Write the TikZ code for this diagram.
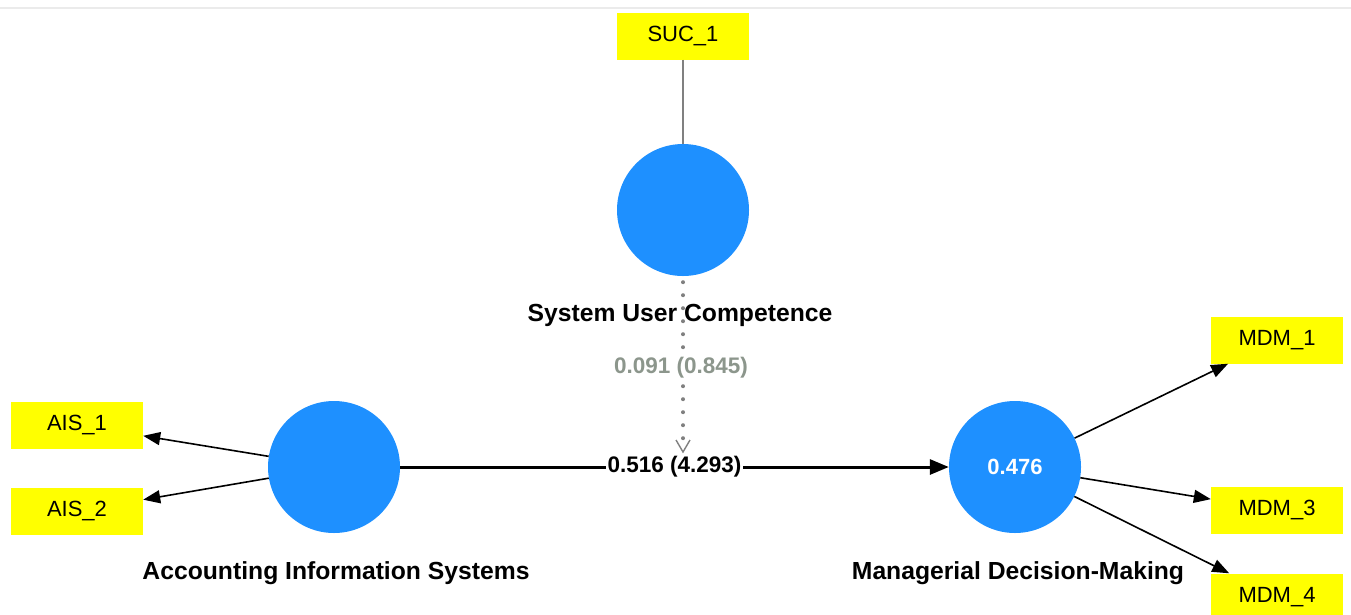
\documentclass[tikz,border=0pt]{standalone}
\usepackage{fontspec}
\setmainfont{Liberation Sans}
\usetikzlibrary{arrows.meta,calc}
\definecolor{lvblue}{RGB}{30,144,255}
\definecolor{indyellow}{RGB}{255,255,0}
\definecolor{pathgrey}{RGB}{128,128,128}
\definecolor{modgrey}{RGB}{140,150,140}
\tikzset{
  latent/.style={circle, fill=lvblue, minimum size=132pt, inner sep=0pt,
    text=white, font=\fontsize{22}{24}\selectfont\bfseries},
  indicator/.style={rectangle, fill=indyellow, minimum width=132pt,
    minimum height=47pt, inner sep=0pt, font=\fontsize{22}{24}\selectfont},
  lvlabel/.style={font=\fontsize{24.7}{28}\selectfont\bfseries, text=black},
  coef/.style={font=\fontsize{22.5}{26}\selectfont\bfseries, fill=white,
    inner sep=2pt},
  loading/.style={line width=1.6pt, -{Triangle[length=17pt,width=13pt]}},
  mainpath/.style={line width=3pt, -{Triangle[length=19pt,width=15pt]}},
}
\begin{document}
\begin{tikzpicture}[x=1pt,y=-1pt]
\useasboundingbox (0,0) rectangle (1351,614);
\clip (0,0) rectangle (1351,614);
\fill[white] (0,0) rectangle (1351,614);
% header rule
\draw[black!8, line width=1.2pt] (0,8) -- (1351,8);

% latent variables
\node[latent] (suc) at (683,210) {};
\node[latent] (ais) at (334,467) {};
\node[latent] (mdm) at (1015,467) {0.476};

% indicators
\node[indicator] (suc1) at (683,36) {SUC\_1};
\node[indicator] (ais1) at (77,425) {AIS\_1};
\node[indicator] (ais2) at (77,511) {AIS\_2};
\node[indicator] (mdm1) at (1277,340) {MDM\_1};
\node[indicator] (mdm3) at (1277,510) {MDM\_3};
\node[indicator] (mdm4) at (1277,597) {MDM\_4};

% construct names
\node[lvlabel] (suclbl) at (680,315) {System User Competence};
\node[lvlabel] (aislbl) at (336,573) {Accounting Information Systems};
\node[lvlabel] (mdmlbl) at (1018,573) {Managerial Decision-Making};

% single-item construct link
\draw[pathgrey, line width=2.2pt] (suc1) -- (suc);

% moderating effect (dotted, open chevron head)
\coordinate (modend) at (683,452);
\draw[pathgrey, line width=4pt, line cap=round, dash pattern=on 0pt off 13pt]
  ($(suc.south)+(0,6)$) -- ($(modend)+(0,-10)$);
\draw[pathgrey, line width=1.4pt]
  ($(modend)+(-7,-12)$) -- (modend) -- ($(modend)+(7,-12)$);
\node[font=\fontsize{22.5}{26}\selectfont\bfseries, text=modgrey, fill=white,
  inner sep=1pt] (modcoef) at (681,368) {0.091 (0.845)};

% structural path
\draw[mainpath] (ais) -- node[coef] (pathcoef) {0.516 (4.293)} (mdm);

% outer loadings
\draw[loading] (ais) -- (ais1);
\draw[loading] (ais) -- (ais2);
\draw[loading] (mdm) -- (mdm1);
\draw[loading] (mdm) -- (mdm3);
\draw[loading] (mdm) -- (mdm4);
\end{tikzpicture}
\end{document}
